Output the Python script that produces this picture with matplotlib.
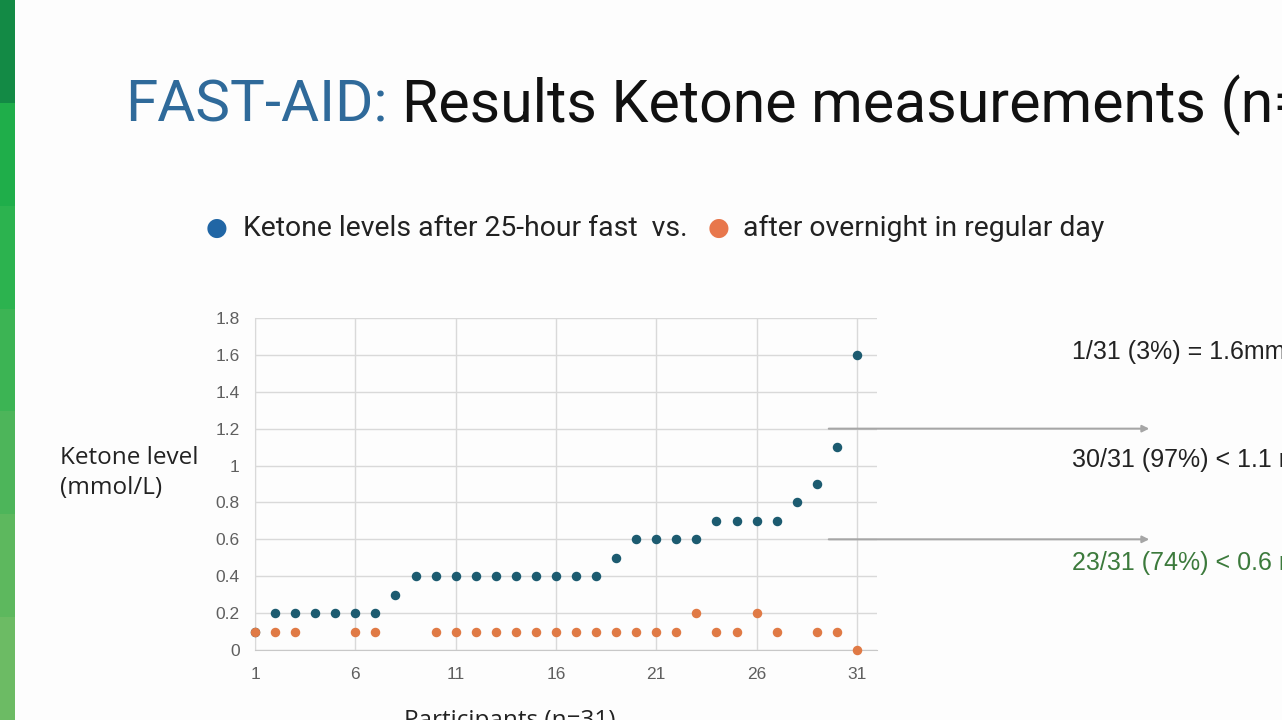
import numpy as np
import matplotlib
matplotlib.use("Agg")
from matplotlib import pyplot as plt
from matplotlib.patches import Rectangle

# data
participants = np.arange(1, 32)
fast_25h = [0.1, 0.2, 0.2, 0.2, 0.2, 0.2, 0.2, 0.3, 0.4, 0.4,
            0.4, 0.4, 0.4, 0.4, 0.4, 0.4, 0.4, 0.4, 0.5, 0.6,
            0.6, 0.6, 0.6, 0.7, 0.7, 0.7, 0.7, 0.8, 0.9, 1.1, 1.6]
overnight = [0.1, 0.1, 0.1, np.nan, np.nan, 0.1, 0.1, np.nan, np.nan, 0.1,
             0.1, 0.1, 0.1, 0.1, 0.1, 0.1, 0.1, 0.1, 0.1, 0.1,
             0.1, 0.1, 0.2, 0.1, 0.1, 0.2, 0.1, np.nan, 0.1, 0.1, 0.0]
x_ticks = [1, 6, 11, 16, 21, 26, 31]
y_ticks = [0, 0.2, 0.4, 0.6, 0.8, 1, 1.2, 1.4, 1.6, 1.8]
y_ticklabels = ["0", "0.2", "0.4", "0.6", "0.8", "1", "1.2", "1.4", "1.6", "1.8"]
notes = ["1/31 (3%) = 1.6mmol/L", "30/31 (97%) < 1.1 mmol/L", "23/31 (74%) < 0.6 mmol/L"]
arrow_levels = [1.2, 0.6]

fig = plt.figure(figsize=(12.82, 7.2), dpi=100)
fig.patch.set_facecolor("#fdfdfd")

# green strip on the left edge
greens = ["#138a45", "#1fae4a", "#2cb34f", "#3cb454", "#4db55a", "#5db85e", "#6cbb64"]
for i, g in enumerate(greens):
    fig.add_artist(Rectangle((0, 1 - (i + 1) / len(greens)), 15 / 1282, 1 / len(greens),
                             transform=fig.transFigure, color=g, lw=0))

# title
t1 = fig.text(125 / 1282, 1 - 122 / 720, "FAST-AID:", fontsize=42, color="#2f6a9a",
              family="Roboto", va="baseline")
fig.canvas.draw()
bb = t1.get_window_extent()
fig.text((bb.x1 + 14) / 1282, 1 - 122 / 720, "Results Ketone measurements (n=31)",
         fontsize=42.5, color="#111111", family="Roboto", va="baseline")

# legend line
fig.text(217 / 1282, 1 - 228 / 720, "\u25cf", fontsize=18, color="#2166a5", ha="center", va="center")
fig.text(243 / 1282, 1 - 228 / 720, "Ketone levels after 25-hour fast  vs.", fontsize=20.4,
         color="#222222", family="Roboto", va="center")
fig.text(719 / 1282, 1 - 228 / 720, "\u25cf", fontsize=18, color="#e8774c", ha="center", va="center")
fig.text(743 / 1282, 1 - 228 / 720, "after overnight in regular day", fontsize=20.4,
         color="#222222", family="Roboto", va="center")

ax = fig.add_axes([255 / 1282, 1 - 650 / 720, 622 / 1282, 332 / 720])
ax.set_facecolor("#fdfdfd")
ax.scatter(participants, fast_25h, s=34, color="#1c5b70", zorder=3, clip_on=False)
ax.scatter(participants, overnight, s=34, color="#e07a45", zorder=4, clip_on=False)

ax.set_xlim(1, 32)
ax.set_ylim(0, 1.8)
ax.set_xticks(x_ticks)
ax.set_yticks(y_ticks)
ax.set_yticklabels(y_ticklabels)
ax.grid(True, color="#d9d9d9", lw=1)
ax.set_axisbelow(True)
for s in ["top", "right"]:
    ax.spines[s].set_visible(False)
ax.spines["left"].set_color("#d9d9d9")
ax.spines["bottom"].set_color("#c8c8c8")
ax.tick_params(length=0, labelsize=12.5, labelcolor="#5f5f5f")
ax.tick_params(axis="x", pad=12)
ax.tick_params(axis="y", pad=11)
for lab in ax.get_xticklabels() + ax.get_yticklabels():
    lab.set_family("Liberation Sans")

fig.text(60 / 1282, 1 - 473 / 720, "Ketone level\n(mmol/L)", fontsize=17.5, color="#222222",
         family="Open Sans", va="center", linespacing=1.3)
fig.text(510 / 1282, 1 - 727 / 720, "Participants (n=31)", fontsize=17.5, color="#222222",
         family="Open Sans", ha="center", va="baseline")

# annotations on the right
fig.text(1072 / 1282, 1 - 352 / 720, notes[0], fontsize=18, color="#222222",
         family="Liberation Sans", va="center")
fig.text(1072 / 1282, 1 - 460 / 720, notes[1], fontsize=18, color="#222222",
         family="Liberation Sans", va="center")
fig.text(1072 / 1282, 1 - 563 / 720, notes[2], fontsize=18, color="#3c7a3c",
         family="Liberation Sans", va="center")
for lvl in arrow_levels:
    ax.annotate("", xy=(1152 / 1282, lvl), xytext=(826 / 1282, lvl),
                xycoords=("figure fraction", "data"), textcoords=("figure fraction", "data"),
                arrowprops=dict(arrowstyle="-|>", color="#a6a6a6", lw=1.5, mutation_scale=10),
                annotation_clip=False)

plt.savefig("out.png", dpi=100, facecolor=fig.get_facecolor())
